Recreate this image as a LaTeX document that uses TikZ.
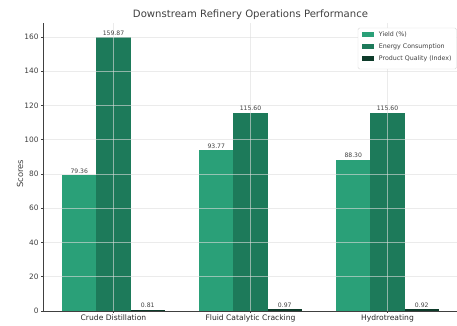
\documentclass[tikz,border=0pt]{standalone}
\usepackage{fontspec}
\setmainfont{DejaVu Sans}
\usetikzlibrary{positioning}

\definecolor{yieldc}{HTML}{2AA078}
\definecolor{energyc}{HTML}{1D7A5A}
\definecolor{qualc}{HTML}{0E3B2A}
\definecolor{txtc}{HTML}{404040}
\definecolor{gridc}{HTML}{DDDDDD}

\begin{document}
\begin{tikzpicture}[x=1pt,y=1pt,
  val/.style={font=\fontsize{6.1}{7}\selectfont,text=txtc,anchor=south,inner sep=1.8pt},
  ticklbl/.style={font=\fontsize{7.4}{8}\selectfont,text=txtc,anchor=east,inner sep=1pt},
  catlbl/.style={font=\fontsize{7.6}{8}\selectfont,text=black!85,anchor=north,inner sep=2pt},
  legpatch/.style={minimum width=12pt,minimum height=5pt,inner sep=0pt},
  legtxt/.style={font=\fontsize{6.3}{7}\selectfont,text=txtc,inner sep=0pt},
  gridline/.style={gridc,line width=0.6pt,opacity=0.6}]
\useasboundingbox (0,0) rectangle (457,326);

\node[font=\fontsize{10.1}{12}\selectfont,text=txtc] (title) at (250.5,311) {Downstream Refinery Operations Performance};
\node[rotate=90,font=\fontsize{8.4}{9}\selectfont,text=txtc] (ylab) at (20,152) {Scores};

\begin{scope}[shift={(113.5,15)},x=137pt,y=1.7125pt]
% bars
\foreach \i/\a/\b/\c in {0/79.36/159.87/0.81,1/93.77/115.60/0.97,2/88.30/115.60/0.92}{
  \fill[yieldc] (\i-0.375,0) rectangle (\i-0.125,\a);
  \fill[energyc] (\i-0.125,0) rectangle (\i+0.125,\b);
  \fill[qualc] (\i+0.125,0) rectangle (\i+0.375,\c);
}
% grid on top
\foreach \v in {20,40,...,160}
  \draw[gridline] (-0.5125,\v) -- (2.5125,\v);
\foreach \i in {0,1,2}
  \draw[gridline] (\i,0) -- (\i,168);

% value labels
\foreach \i/\a/\b/\c in {0/79.36/159.87/0.81,1/93.77/115.60/0.97,2/88.30/115.60/0.92}{
  \node[val] (ya\i) at (\i-0.25,\a) {\a};
  \node[val] (en\i) at (\i,\b) {\b};
  \node[val] (qu\i) at (\i+0.25,\c) {\c};
}

% axes
\draw[txtc,line width=0.6pt] (-0.5125,168) -- (-0.5125,0) -- (2.5125,0);
\foreach \v in {0,20,...,160}{
  \draw[txtc,line width=0.5pt] (-0.5125,\v) -- ++(-2.5pt,0);
  \node[ticklbl,xshift=-3.5pt] (t\v) at (-0.5125,\v) {\v};
}
\foreach \i/\cat in {0/Crude Distillation,1/Fluid Catalytic Cracking,2/Hydrotreating}{
  \draw[txtc,line width=0.5pt] (\i,0) -- ++(0,-2.5pt);
  \node[catlbl,yshift=-2pt] (cat\i) at (\i,0) {\cat};
}
\end{scope}

% legend
\draw[gray!30,fill=white,rounded corners=1.5pt] (358,257) rectangle (456.5,298);
\node[legpatch,fill=yieldc] (ly) at (368,291) {};
\node[legtxt,right=4.5pt of ly] (lyt) {Yield (\%)};
\node[legpatch,fill=energyc] (le) at (368,279) {};
\node[legtxt,right=4.5pt of le] (let) {Energy Consumption};
\node[legpatch,fill=qualc] (lq) at (368,267) {};
\node[legtxt,right=4.5pt of lq] (lqt) {Product Quality (Index)};
\end{tikzpicture}
\end{document}
